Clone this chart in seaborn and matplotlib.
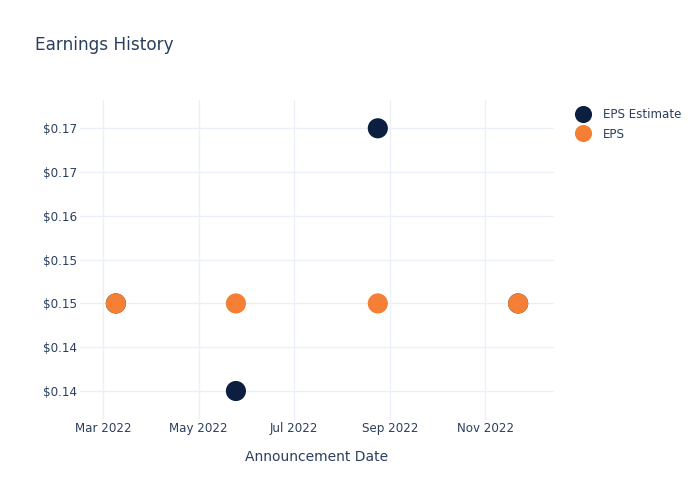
# import
import matplotlib.pyplot as plt
import matplotlib.dates as mdates
import seaborn as sns
import pandas as pd

sns.set_style('whitegrid')
plt.rcParams['font.family'] = ['DejaVu Sans']

# data
dates = ['2022-03-09', '2022-05-25', '2022-08-24', '2022-11-22']
eps_estimate = [0.15, 0.14, 0.17, 0.15]
eps_actual = [0.15, 0.15, 0.15, 0.15]
series_names = ['EPS Estimate', 'EPS']
y_ticks = [0.14, 0.145, 0.15, 0.155, 0.16, 0.165, 0.17]
y_tick_labels = ['$0.14', '$0.14', '$0.15', '$0.15', '$0.16', '$0.17', '$0.17']

text_color = '#2a3f5f'
grid_color = '#ebf0f8'
colors = {'EPS Estimate': '#0c1f40', 'EPS': '#f58035'}

# long form dataframe, estimate first so EPS is drawn on top
df = pd.DataFrame({
    'date': pd.to_datetime(dates + dates),
    'value': eps_estimate + eps_actual,
    'series': [series_names[0]] * len(dates) + [series_names[1]] * len(dates),
})

fig = plt.figure(figsize=(7, 5), dpi=100)
ax = fig.add_axes([80 / 700, 80 / 500, 474 / 700, 320 / 500])

sns.scatterplot(data=df, x='date', y='value', hue='series', palette=colors,
                s=210, linewidth=0, alpha=1, ax=ax)

# axes config
ax.set_xlim(pd.Timestamp('2022-02-14'), pd.Timestamp('2022-12-15'))
ax.set_ylim(0.13669, 0.17323)
ax.xaxis.set_major_locator(mdates.MonthLocator(bymonth=[3, 5, 7, 9, 11]))
ax.xaxis.set_major_formatter(mdates.DateFormatter('%b %Y'))
ax.set_yticks(y_ticks)
ax.set_yticklabels(y_tick_labels)
ax.tick_params(axis='both', length=0, labelsize=8.6, labelcolor=text_color)
ax.tick_params(axis='y', pad=2)
ax.tick_params(axis='x', pad=1.5)
ax.grid(True, color=grid_color, linewidth=1)
for spine in ax.spines.values():
    spine.set_visible(False)
ax.set_ylabel('')
ax.set_xlabel('Announcement Date', fontsize=10, color=text_color, labelpad=11)

# legend outside on the right
handles, labels = ax.get_legend_handles_labels()
ax.legend_.remove()
fig.legend(handles, labels, loc='upper left', bbox_to_anchor=(576 / 700, 1 - 108 / 500),
           frameon=False, fontsize=8.6, labelcolor=text_color, borderpad=0,
           borderaxespad=0, handlelength=1.2, handletextpad=1.05,
           labelspacing=0.55, markerscale=0.85)

fig.text(35 / 700, 1 - 45 / 500, 'Earnings History', fontsize=12.2,
         color=text_color, va='center', ha='left')

fig.savefig('out.png', dpi=100)
